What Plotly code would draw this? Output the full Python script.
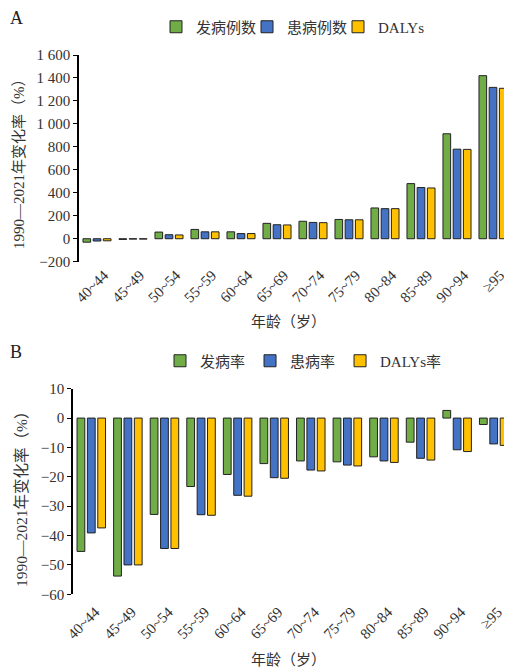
import plotly.graph_objects as go

age_groups = ["40~44", "45~49", "50~54", "55~59", "60~64", "65~69",
              "70~74", "75~79", "80~84", "85~89", "90~94", "≥95"]

# Panel A: percentage change in counts (%)
incidence_cases = [-30, -6, 58, 81, 60, 134, 152, 168, 268, 480, 914, 1420]
prevalence_cases = [-20, -3, 35, 60, 45, 122, 142, 165, 262, 446, 780, 1318]
dalys_cases = [-18, -3, 33, 60, 45, 120, 140, 165, 262, 442, 778, 1310]

# Panel B: percentage change in rates (%)
incidence_rate = [-45.4, -53.8, -32.8, -23.3, -19.2, -15.5, -14.6, -14.9, -13.2, -8.2, 2.6, -2.2]
prevalence_rate = [-39.1, -50.0, -44.4, -32.9, -26.3, -20.3, -17.7, -16.0, -14.6, -13.7, -10.8, -8.8]
dalys_rate = [-37.4, -50.0, -44.4, -33.1, -26.6, -20.5, -18.0, -16.3, -15.1, -14.3, -11.4, -9.3]

a_tickvals = [-200, 0, 200, 400, 600, 800, 1000, 1200, 1400, 1600]
a_ticktext = ["−200", "0", "200", "400", "600", "800", "1 000", "1 200", "1 400", "1 600"]
b_tickvals = [-60, -50, -40, -30, -20, -10, 0, 10]

GREEN = "#70AD47"
BLUE = "#4472C4"
YELLOW = "#FFC000"
EDGE = "#222222"
FONT = "Liberation Serif, Noto Sans CJK SC, serif"

W, H = 512, 672
OX, OY = 8, 8  # page body margin offset


def fx(px):
    return (px - OX) / W


def fy(px):
    return 1 - (px - OY) / H


fig = go.Figure()

specs_a = [("发病例数", incidence_cases, GREEN), ("患病例数", prevalence_cases, BLUE), ("DALYs", dalys_cases, YELLOW)]
specs_b = [("发病率", incidence_rate, GREEN), ("患病率", prevalence_rate, BLUE), ("DALYs率", dalys_rate, YELLOW)]

for name, vals, col in specs_a:
    fig.add_trace(go.Bar(x=age_groups, y=vals, name=name, xaxis="x", yaxis="y",
                         marker=dict(color=col, line=dict(color=EDGE, width=1)),
                         legend="legend"))
for name, vals, col in specs_b:
    fig.add_trace(go.Bar(x=age_groups, y=vals, name=name, xaxis="x2", yaxis="y2",
                         marker=dict(color=col, line=dict(color=EDGE, width=1)),
                         legend="legend2"))

a_dom_x = [fx(79), fx(511)]
b_dom_x = [fx(73), fx(512)]
a_dom_y = [fy(261.7), fy(55)]
b_dom_y = [fy(594.3), fy(388.7)]

tickfont = dict(family=FONT, size=15, color="#333")
xtickfont = dict(family=FONT, size=15, color="#333")
boundaries = [i + 0.5 for i in range(11)]

fig.update_layout(
    template="none",
    width=W, height=H, autosize=False,
    margin=dict(l=0, r=0, t=0, b=0, pad=0),
    paper_bgcolor="white", plot_bgcolor="white",
    font=dict(family=FONT, color="#333"),
    barmode="group", bargap=0.15, bargroupgap=0.25,
    xaxis=dict(domain=a_dom_x, anchor="y", type="category", range=[-0.5, 11.5], automargin=False,
               showline=False, ticks="", tickangle=-45, tickfont=xtickfont,
               ticklabelshift=7, ticklabelstandoff=1,
               showgrid=False, zeroline=False),
    yaxis=dict(domain=a_dom_y, anchor="x", range=[-200, 1600], tickvals=a_tickvals, ticktext=a_ticktext,
               automargin=False,
               showline=True, linecolor="black", linewidth=1.5, ticks="outside", ticklen=4,
               tickcolor="black", tickfont=tickfont, showgrid=False, zeroline=False),
    xaxis3=dict(overlaying="x", anchor="free", position=fy(238.3), range=[-0.5, 11.5], automargin=False,
                tickvals=boundaries, showticklabels=False, ticks="outside", ticklen=4,
                tickcolor="black", showline=True, linecolor="black", linewidth=1.5, showgrid=False,
                zeroline=False),
    xaxis2=dict(domain=b_dom_x, anchor="y2", type="category", range=[-0.5, 11.5], automargin=False,
                showline=False, ticks="", tickangle=-45, tickfont=xtickfont,
                ticklabelshift=4, ticklabelstandoff=5,
                showgrid=False, zeroline=False),
    yaxis2=dict(domain=b_dom_y, anchor="x2", range=[-60, 10], tickvals=b_tickvals, automargin=False,
                showline=True, linecolor="black", linewidth=1.5, ticks="outside", ticklen=4,
                tickcolor="black", tickfont=tickfont, showgrid=False, zeroline=False),
    xaxis4=dict(overlaying="x2", anchor="free", position=fy(418.3), range=[-0.5, 11.5], automargin=False,
                tickvals=boundaries, showticklabels=False, ticks="outside", ticklen=4,
                tickcolor="black", showline=True, linecolor="black", linewidth=1.5, showgrid=False,
                zeroline=False),
    legend=dict(orientation="h", x=fx(156), y=fy(27), xanchor="left", yanchor="middle",
                font=dict(family=FONT, size=15, color="#333"), entrywidth=46, itemwidth=30,
                bgcolor="rgba(0,0,0,0)", borderwidth=0),
    legend2=dict(orientation="h", x=fx(160), y=fy(361), xanchor="left", yanchor="middle",
                 font=dict(family=FONT, size=15, color="#333"), itemwidth=30,
                 bgcolor="rgba(0,0,0,0)", borderwidth=0),
    annotations=[
        dict(text="A", x=fx(8), y=fy(18), xref="paper", yref="paper", showarrow=False,
             xanchor="left", yanchor="middle", font=dict(family=FONT, size=18, color="#222")),
        dict(text="B", x=fx(8), y=fy(352), xref="paper", yref="paper", showarrow=False,
             xanchor="left", yanchor="middle", font=dict(family=FONT, size=18, color="#222")),
        dict(text="1990—2021年变化率（%）", x=fx(19), y=fy(160), xref="paper", yref="paper",
             showarrow=False, textangle=-90, xanchor="center", yanchor="middle",
             font=dict(family=FONT, size=15, color="#333")),
        dict(text="1990—2021年变化率（%）", x=fx(21), y=fy(496), xref="paper", yref="paper",
             showarrow=False, textangle=-90, xanchor="center", yanchor="middle",
             font=dict(family=FONT, size=15.5, color="#333")),
        dict(text="年龄（岁）", x=fx(288), y=fy(322), xref="paper", yref="paper",
             showarrow=False, xanchor="center", yanchor="middle",
             font=dict(family=FONT, size=15, color="#333")),
        dict(text="年龄（岁）", x=fx(288), y=fy(660), xref="paper", yref="paper",
             showarrow=False, xanchor="center", yanchor="middle",
             font=dict(family=FONT, size=15, color="#333")),
    ],
)

fig.write_html("out.html")
